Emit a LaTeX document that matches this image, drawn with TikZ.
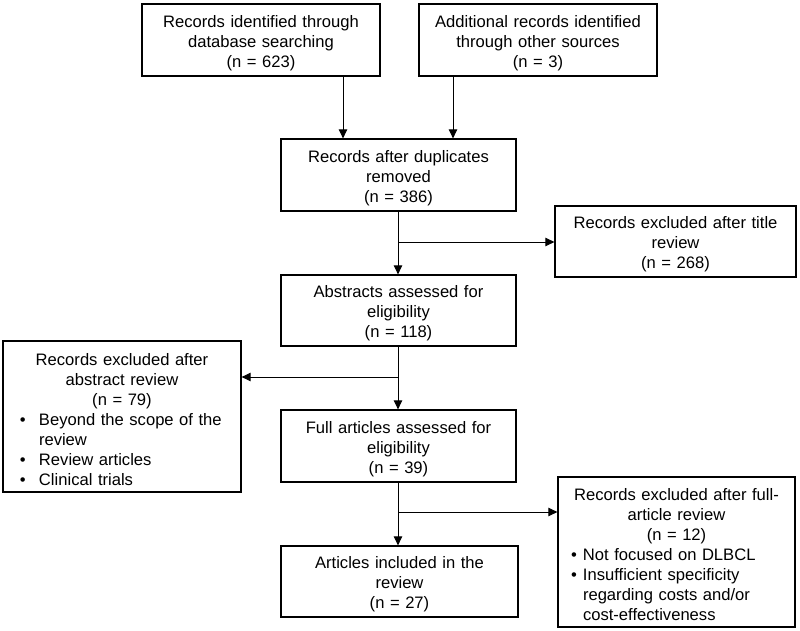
\documentclass[tikz,border=0pt]{standalone}
\usepackage{fontspec}
\setmainfont{Liberation Sans}
\usetikzlibrary{arrows.meta,calc}
\newcommand\myCln[2]{\makebox[#1][c]{#2}}
\newcommand\myBln[3]{\hspace*{#1}\makebox[#2][l]{•}#3}
\newcommand\myIln[2]{\hspace*{#1}#2}
\newcommand\myTail{\endgraf\vspace*{-6pt}}
\begin{document}
\begin{tikzpicture}[x=1pt,y=-1pt,
  box/.style={draw, line width=1.3pt, inner sep=0pt, align=center,
    font=\fontsize{16.6}{20}\selectfont, execute at end node=\myTail},
  arr/.style={line width=0.9pt, -{Triangle[length=9pt,width=8.5pt]}}]
\useasboundingbox (0,0) rectangle (800,631);
\node[box, minimum width=238, minimum height=72, text width=238pt] (b1) at (261,40)
  {Records identified through\\database searching\\(n = 623)};
\node[box, minimum width=238, minimum height=72, text width=238pt] (b2) at (538,40)
  {Additional records identified\\through other sources\\(n = 3)};
\node[box, minimum width=235, minimum height=72, text width=235pt] (dup) at (398.5,175)
  {Records after duplicates\\removed\\(n = 386)};
\node[box, minimum width=241, minimum height=71, text width=241pt] (title) at (675.5,241.5)
  {Records excluded after title\\review\\(n = 268)};
\node[box, minimum width=235, minimum height=71, text width=235pt] (abs) at (398.5,310.5)
  {Abstracts assessed for\\eligibility\\(n = 118)};
\node[box, minimum width=238, minimum height=151, text width=238pt, align=left] (absx) at (122,416.5)
  {\myCln{238pt}{Records excluded after}\\
   \myCln{238pt}{abstract review}\\
   \myCln{238pt}{(n = 79)}\\
   \myBln{17pt}{19pt}{Beyond the scope of the}\\
   \myIln{36pt}{review}\\
   \myBln{17pt}{19pt}{Review articles}\\
   \myBln{17pt}{19pt}{Clinical trials}};
\node[box, minimum width=235, minimum height=72, text width=235pt] (full) at (398.5,446)
  {Full articles assessed for\\eligibility\\(n = 39)};
\node[box, minimum width=237, minimum height=150, text width=237pt, align=left] (fx) at (676.5,552)
  {\myCln{237pt}{Records excluded after full-}\\
   \myCln{237pt}{article review}\\
   \myCln{237pt}{(n = 12)}\\
   \myBln{13pt}{12pt}{Not focused on DLBCL}\\
   \myBln{13pt}{12pt}{Insufficient specificity}\\
   \myIln{25pt}{regarding costs and/or}\\
   \myIln{25pt}{cost-effectiveness}};
\node[box, minimum width=237, minimum height=71, text width=237pt] (inc) at (399.5,581.5)
  {Articles included in the\\review\\(n = 27)};
\coordinate (j1) at (398,242);
\coordinate (j2) at (398,377);
\coordinate (j3) at (398,512);
\draw[arr] ([xshift=82pt]b1.south) -- ([xshift=82pt]b1.south |- dup.north);
\draw[arr] ([xshift=-85pt]b2.south) -- ([xshift=-85pt]b2.south |- dup.north);
\draw[arr] (dup.south -| j1) -- (abs.north -| j1);
\draw[arr] (j1) -- (j1 -| title.west);
\draw[arr] (abs.south -| j2) -- (full.north -| j2);
\draw[arr] (j2) -- (j2 -| absx.east);
\draw[arr] (full.south -| j3) -- (inc.north -| j3);
\draw[arr] (j3) -- (j3 -| fx.west);
\end{tikzpicture}
\end{document}
